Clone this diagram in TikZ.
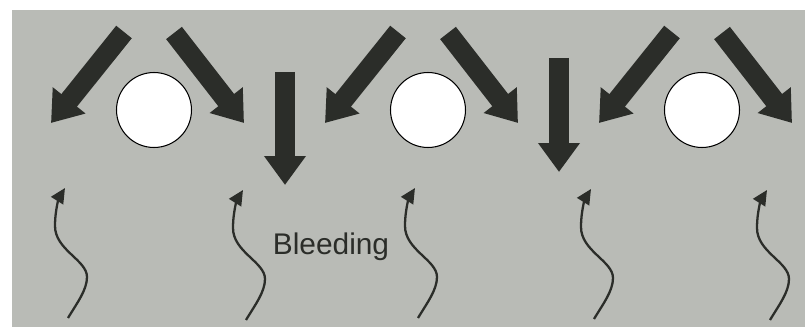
\documentclass[tikz,border=0pt]{standalone}
\usepackage{fontspec}
\setmainfont{Liberation Sans}
\usepackage{tikz}
\usetikzlibrary{calc,arrows.meta,positioning}
\definecolor{color1}{HTML}{B9BBB6}
\definecolor{color2}{HTML}{2B2D29}
\def\panelcolor{color1}
\def\flowcolor{color2}
\tikzset{
  panel/.style={fill=\panelcolor, draw=none},
  pore/.style={
    circle, draw=black, fill=white, line width=0.6pt,
    minimum size=1.5cm, inner sep=0, outer sep=0
  },
  pressure arrow/.style={
    -{Triangle[width=0.8cm,length=0.58cm]}, line width=0.4cm, draw=\flowcolor
  },
  wave arrow/.style={
    -{Triangle[width=0.28cm,length=0.3cm]}, line width=1.3pt, draw=\flowcolor
  },
  bleedlabel/.style={font=\fontsize{17pt}{19pt}\selectfont, text=\flowcolor}
}
\newcommand{\BleedPorePush}[1]{%
    \draw[pressure arrow] ($(#1)+(-30,-78)$) -- ($(#1)+(-103,13)$);
    \draw[pressure arrow] ($(#1)+(20,-77)$) -- ($(#1)+(90,13)$);%
}
\newcommand{\BleedWaveArrow}[2]{%
    \coordinate (#1tip) at (#2);
    \coordinate (#1foot) at ($(#1tip)+(3,130)$);
    \draw[wave arrow] (#1foot)
        .. controls ($(#1tip)+(12,115)$) and ($(#1tip)+(22,102)$) .. ($(#1tip)+(22,89)$)
        .. controls ($(#1tip)+(22,72)$) and ($(#1tip)+(-10,62)$) .. ($(#1tip)+(-10,38)$)
        .. controls ($(#1tip)+(-10,20)$) and ($(#1tip)+(-5,8)$) .. (#1tip);%
}

\begin{document}
\begin{tikzpicture}
    \begin{scope}[x=0.02cm, y=-0.02cm]
        \useasboundingbox (0,0) rectangle (805,327);
        \fill[panel] (12,10) rectangle (805,327);
        % pores
        \node[pore] (pore1) at (154,110) {};
        \node[pore] (pore2) at (428,110) {};
        \node[pore] (pore3) at (702,110) {};
        \BleedPorePush{pore1}
        \BleedPorePush{pore2}
        \BleedPorePush{pore3}
        % downward push between pores
        \coordinate (drop1top) at (285,72);
        \coordinate (drop1end) at (285,185);
        \coordinate (drop2top) at (559,58);
        \coordinate (drop2end) at (559,172);
        \draw[pressure arrow] (drop1top) -- (drop1end);
        \draw[pressure arrow] (drop2top) -- (drop2end);
        % rising water
        \BleedWaveArrow{wave1}{65,188}
        \BleedWaveArrow{wave2}{243,190}
        \BleedWaveArrow{wave3}{415,188}
        \BleedWaveArrow{wave4}{591,189}
        \BleedWaveArrow{wave5}{767,190}
        \node[bleedlabel] (bleeding) at (331,247) {Bleeding};
    \end{scope}
\end{tikzpicture}
\end{document}
